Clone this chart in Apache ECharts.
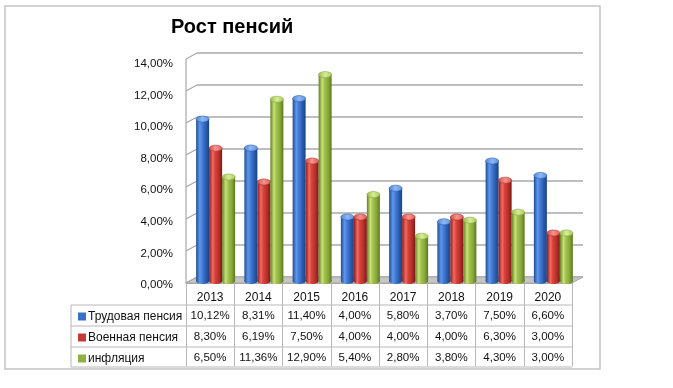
<!DOCTYPE html>
<html>
<head>
<meta charset="utf-8">
<script src="https://cdn.jsdelivr.net/npm/echarts@6/dist/echarts.min.js"></script>
<style>
html,body{margin:0;padding:0;background:#fff;}
#main{width:673px;height:388px;}
</style>
</head>
<body>
<div id="main"></div>
<script>
const years = ['2013', '2014', '2015', '2016', '2017', '2018', '2019', '2020'];
const trud = [10.12, 8.31, 11.40, 4.00, 5.80, 3.70, 7.50, 6.60];
const voen = [8.30, 6.19, 7.50, 4.00, 4.00, 4.00, 6.30, 3.00];
const infl = [6.50, 11.36, 12.90, 5.40, 2.80, 3.80, 4.30, 3.00];
const seriesNames = ['Трудовая пенсия', 'Военная пенсия', 'инфляция'];
const yTicks = [0, 2, 4, 6, 8, 10, 12, 14];

const FONT = 'Liberation Sans';
const fmt = v => v.toFixed(2).replace('.', ',') + '%';

const palettes = [
  {legend: '#3a70c8', body: ['#1d4b93', '#5f97e9', '#4680da', '#2a5cae', '#18438a'], top: ['#4f86d8', '#8fb8f2', '#5d92e0']},
  {legend: '#c83a35', body: ['#8a1b18', '#f26b62', '#d9433b', '#b3302b', '#7e1816'], top: ['#cf4a43', '#f5958e', '#dc5a53']},
  {legend: '#8fb043', body: ['#62801f', '#c9e27a', '#a3c34f', '#86a63a', '#5b781c'], top: ['#98b94a', '#d6ec98', '#aacb5c']}
];

function grad(cols) {
  const n = cols.length;
  return new echarts.graphic.LinearGradient(0, 0, 1, 0,
    cols.map((c, i) => ({offset: n === 5 ? [0, 0.28, 0.45, 0.75, 1][i] : i / (n - 1), color: c})));
}

const chart = echarts.init(document.getElementById('main'), null, {renderer: 'canvas'});

const allData = [trud, voen, infl];
const barSeries = allData.map((arr, k) => ({
  name: seriesNames[k],
  type: 'custom',
  xAxisIndex: 1,
  yAxisIndex: 1,
  z: 5,
  itemStyle: {color: palettes[k].legend},
  data: arr.map((v, i) => [i, v]),
  renderItem: function (params, api) {
    const i = api.value(0), v = api.value(1);
    const w = 13;
    const base = api.coord([i, 0]);
    const top = api.coord([i, v]);
    const cx = base[0] + (k - 1) * w;
    const rx = w / 2, ry = 3;
    const p = palettes[k];
    return {
      type: 'group',
      children: [
        {type: 'ellipse', shape: {cx: cx, cy: base[1], rx: rx, ry: ry}, style: {fill: grad(p.body)}},
        {type: 'rect', shape: {x: cx - rx, y: top[1], width: w, height: base[1] - top[1]}, style: {fill: grad(p.body)}},
        {type: 'ellipse', shape: {cx: cx, cy: top[1], rx: rx, ry: ry}, style: {fill: grad(p.top), stroke: p.body[3], lineWidth: 0.6}}
      ]
    };
  }
}));

const decorSeries = {
  type: 'custom',
  xAxisIndex: 0,
  yAxisIndex: 0,
  z: 1,
  silent: true,
  data: yTicks.map(v => [0, v]),
  renderItem: function (params, api) {
    const cs = params.coordSys;
    const v = api.value(1);
    const dx = 11, dy = 6;
    const by = api.coord([0, v])[1];
    const children = [
      {type: 'line', shape: {x1: cs.x - dx, y1: by + dy, x2: cs.x, y2: by}, style: {stroke: '#a8a8a8', lineWidth: 1.2}}
    ];
    if (params.dataIndex === 0) {
      const y0 = by;
      const yTop = api.coord([0, yTicks[yTicks.length - 1]])[1];
      children.unshift({
        type: 'polygon',
        shape: {points: [[cs.x - dx, y0 + dy], [cs.x + cs.width - dx, y0 + dy], [cs.x + cs.width, y0], [cs.x, y0]]},
        style: {fill: '#c6c6c6', stroke: '#a8a8a8', lineWidth: 1}
      });
      children.push({type: 'line', shape: {x1: cs.x - dx, y1: yTop + dy, x2: cs.x - dx, y2: y0 + dy}, style: {stroke: '#a8a8a8', lineWidth: 1.2}});
    }
    return {type: 'group', children: children};
  }
};

const option = {
  backgroundColor: '#fff',
  animation: false,
  textStyle: {fontFamily: FONT},
  title: {
    text: 'Рост пенсий',
    left: 166, top: 12,
    textStyle: {fontFamily: FONT, fontSize: 20, fontWeight: 'bold', color: '#000'}
  },
  legend: {
    orient: 'vertical',
    left: 73, top: 301,
    itemWidth: 8, itemHeight: 8, itemGap: 0,
    icon: 'rect',
    selectedMode: false,
    data: seriesNames,
    textStyle: {fontFamily: FONT, fontSize: 12, color: '#111', lineHeight: 21, padding: [0, 0, 0, -3]}
  },
  grid: [
    {left: 197, right: 90, top: 53, bottom: 111},      // back wall
    {left: 191.5, right: 95.5, top: 57, bottom: 107},  // bar plane (mid depth)
    {left: 186, right: 101, top: 59, bottom: 105},     // front plane / table
    {left: 186, right: 101, top: 64, bottom: 103}      // y labels
  ],
  xAxis: [
    {gridIndex: 0, type: 'category', data: years, show: false},
    {gridIndex: 1, type: 'category', data: years, show: false},
    {
      gridIndex: 2, type: 'category', data: years,
      axisLine: {show: true, lineStyle: {color: '#a8a8a8', width: 1}},
      axisTick: {show: true, interval: 0, length: 83, lineStyle: {color: '#b8b8b8', width: 1}},
      axisLabel: {
        interval: 0, margin: 8, color: '#111',
        formatter: function (val, idx) {
          return '{h|' + val + '}\n{v|' + fmt(trud[idx]) + '}\n{v|' + fmt(voen[idx]) + '}\n{v|' + fmt(infl[idx]) + '}';
        },
        rich: {
          h: {fontFamily: FONT, fontSize: 12, lineHeight: 14, color: '#111'},
          v: {fontFamily: FONT, fontSize: 11.5, lineHeight: 21, color: '#111'}
        }
      }
    },
    {gridIndex: 3, type: 'category', data: years, show: false}
  ],
  yAxis: [
    {gridIndex: 0, type: 'value', min: 0, max: 14, interval: 2,
      axisLine: {show: false}, axisTick: {show: false}, axisLabel: {show: false},
      splitLine: {show: true, lineStyle: {color: '#a8a8a8', width: 1.5}}},
    {gridIndex: 1, type: 'value', min: 0, max: 14, interval: 2, show: false, splitLine: {show: false}},
    {gridIndex: 2, type: 'value', min: 0, max: 14, interval: 2, show: false, splitLine: {show: false}},
    {gridIndex: 3, type: 'value', min: 0, max: 14, interval: 2,
      axisLine: {show: false}, axisTick: {show: false}, splitLine: {show: false},
      axisLabel: {margin: 13, color: '#111', fontFamily: FONT, fontSize: 11.5, formatter: v => fmt(v)}}
  ],
  graphic: [
    {type: 'rect', shape: {x: 5, y: 6, width: 595, height: 363}, style: {fill: 'none', stroke: '#c4c4c4', lineWidth: 1.5}, z: 0, silent: true},
    {type: 'line', shape: {x1: 71, y1: 305, x2: 572, y2: 305}, style: {stroke: '#b8b8b8', lineWidth: 1}, silent: true},
    {type: 'line', shape: {x1: 71, y1: 326, x2: 572, y2: 326}, style: {stroke: '#b8b8b8', lineWidth: 1}, silent: true},
    {type: 'line', shape: {x1: 71, y1: 347, x2: 572, y2: 347}, style: {stroke: '#b8b8b8', lineWidth: 1}, silent: true},
    {type: 'line', shape: {x1: 71, y1: 367, x2: 572, y2: 367}, style: {stroke: '#b8b8b8', lineWidth: 1}, silent: true},
    {type: 'line', shape: {x1: 71, y1: 305, x2: 71, y2: 367}, style: {stroke: '#b8b8b8', lineWidth: 1}, silent: true}
  ],
  series: [decorSeries].concat(barSeries)
};

chart.setOption(option);
</script>
</body>
</html>
